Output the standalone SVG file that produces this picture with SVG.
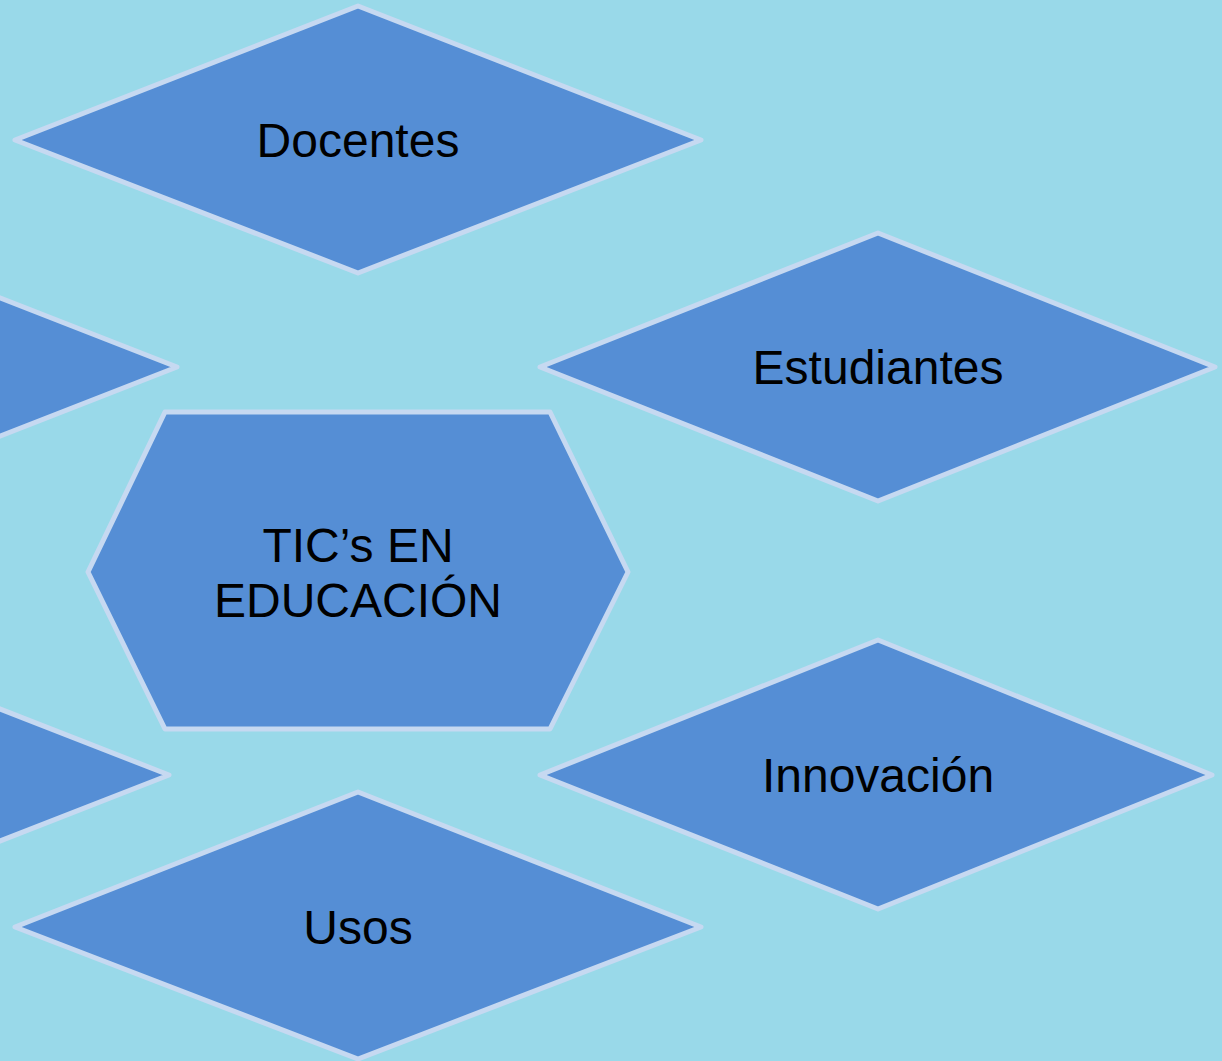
<svg xmlns="http://www.w3.org/2000/svg" width="1222" height="1061" viewBox="0 0 1222 1061">
<style>
.shape{fill:#558ED5;stroke:#C6D9F1;stroke-width:5;stroke-linejoin:round}
.lbl{font-family:"Liberation Sans",Arial,sans-serif;font-size:48px;fill:#000;text-anchor:middle}
</style>
<rect width="1222" height="1061" fill="#99D9E9"/>
<g id="connectors"></g>
<g id="left-top"><polygon class="shape" points="-509,367 -166,233 177,367 -166,501"/></g>
<g id="left-bottom"><polygon class="shape" points="-517,775 -174,641 169,775 -174,909"/></g>
<g id="docentes"><polygon class="shape" points="15,140 358,6 701,140 358,273"/><text class="lbl" x="358" y="157">Docentes</text></g>
<g id="estudiantes"><polygon class="shape" points="540,367 878,233 1215,367 878,501"/><text class="lbl" x="878" y="384">Estudiantes</text></g>
<g id="innovacion"><polygon class="shape" points="540,775 878,640 1212,775 878,909"/><text class="lbl" x="878" y="792">Innovación</text></g>
<g id="usos"><polygon class="shape" points="15,927 358,792 701,927 358,1059"/><text class="lbl" x="358" y="944">Usos</text></g>
<g id="tics"><polygon class="shape" points="88,572 165,412 550,412 628,572 550,729 165,729"/><text class="lbl" x="358" y="562">TIC’s EN</text><text class="lbl" x="358" y="617">EDUCACIÓN</text></g>
</svg>
